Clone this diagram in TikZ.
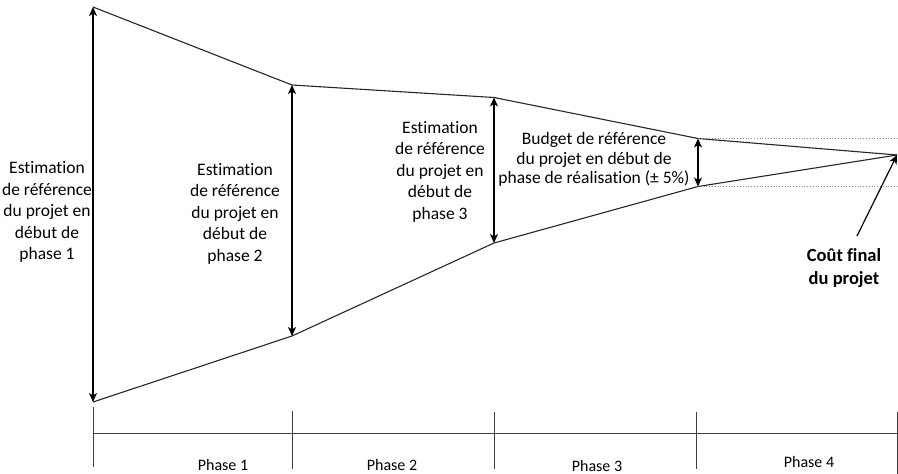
\documentclass[tikz,border=0pt]{standalone}
\usepackage{fontspec}
\setmainfont{Carlito}[Ligatures=NoCommon]
\usetikzlibrary{arrows.meta}
\begin{document}
\begin{tikzpicture}[x=1pt,y=-1pt,
  edge/.style={line width=1.1pt,black!85},
  measure/.style={line width=1.3pt,black,{Stealth[length=9pt,width=8pt,inset=2.5pt]}-{Stealth[length=9pt,width=8pt,inset=2.5pt]}},
  pointer/.style={line width=1.2pt,black,-{Stealth[length=9pt,width=8pt,inset=2.5pt]}},
  guide/.style={line width=0.8pt,black!45,dotted},
  axis/.style={line width=0.9pt,black!75},
  lbl/.style={align=center,inner sep=0pt,font=\fontsize{17.5}{21.5}\selectfont},
  lblb/.style={align=center,inner sep=0pt,font=\fontsize{17.5}{19.5}\selectfont},
  phase/.style={inner sep=0pt,font=\fontsize{16}{19}\selectfont},
  final/.style={align=center,inner sep=0pt,font=\fontsize{18.5}{23}\selectfont\bfseries}]
\useasboundingbox (0,0) rectangle (898,474);
% funnel vertices
\coordinate (t1) at (93,7);
\coordinate (t2) at (292,85);
\coordinate (t3) at (494,97.5);
\coordinate (t4) at (698,138.5);
\coordinate (b1) at (93,402);
\coordinate (b2) at (292,336);
\coordinate (b3) at (494,243);
\coordinate (b4) at (698,186.5);
\coordinate (fin) at (897,155);
\coordinate (g1) at (898,138.5);
\coordinate (g2) at (898,186.5);
% funnel outline
\draw[edge] (t1) -- (t2) -- (t3) -- (t4) -- (fin);
\draw[edge] (b1) -- (b2) -- (b3) -- (b4) -- (fin);
% tolerance band
\draw[guide] (t4) -- (g1);
\draw[guide] (b4) -- (g2);
% estimate ranges
\draw[measure] (t1) -- (b1);
\draw[measure] (t2) -- (b2);
\draw[measure] (t3) -- (b3);
\draw[measure] (t4) -- (b4);
% labels
\node[lbl] (l1) at (47,212) {Estimation\\de référence\\du projet en\\début de\\phase 1};
\node[lbl] (l2) at (235,213.5) {Estimation\\de référence\\du projet en\\début de\\phase 2};
\node[lbl] (l3) at (440,171.5) {Estimation\\de référence\\du projet en\\début de\\phase 3};
\node[lblb] (l4) at (594,159.5) {Budget de référence\\du projet en début de\\phase de réalisation (± 5\%)};
\node[final] (cf) at (844,268) {Coût final\\du projet};
\coordinate (cft) at (857,236);
\draw[pointer] (cft) -- (fin);
% phase axis
\coordinate (a0) at (93,433);
\coordinate (a4) at (897,433);
\draw[axis] (a0) -- (a4);
\foreach \x/\ya/\yb [count=\i] in {93/407/467, 292/411/469, 494/412/469, 696/412/469, 897/412/474}{
  \coordinate (k\i a) at (\x,\ya);
  \coordinate (k\i b) at (\x,\yb);
  \draw[axis] (k\i a) -- (k\i b);
}
\node[phase] (p1) at (223,465) {Phase 1};
\node[phase] (p2) at (392,465) {Phase 2};
\node[phase] (p3) at (597,465.5) {Phase 3};
\node[phase] (p4) at (809,462) {Phase 4};
\end{tikzpicture}
\end{document}
